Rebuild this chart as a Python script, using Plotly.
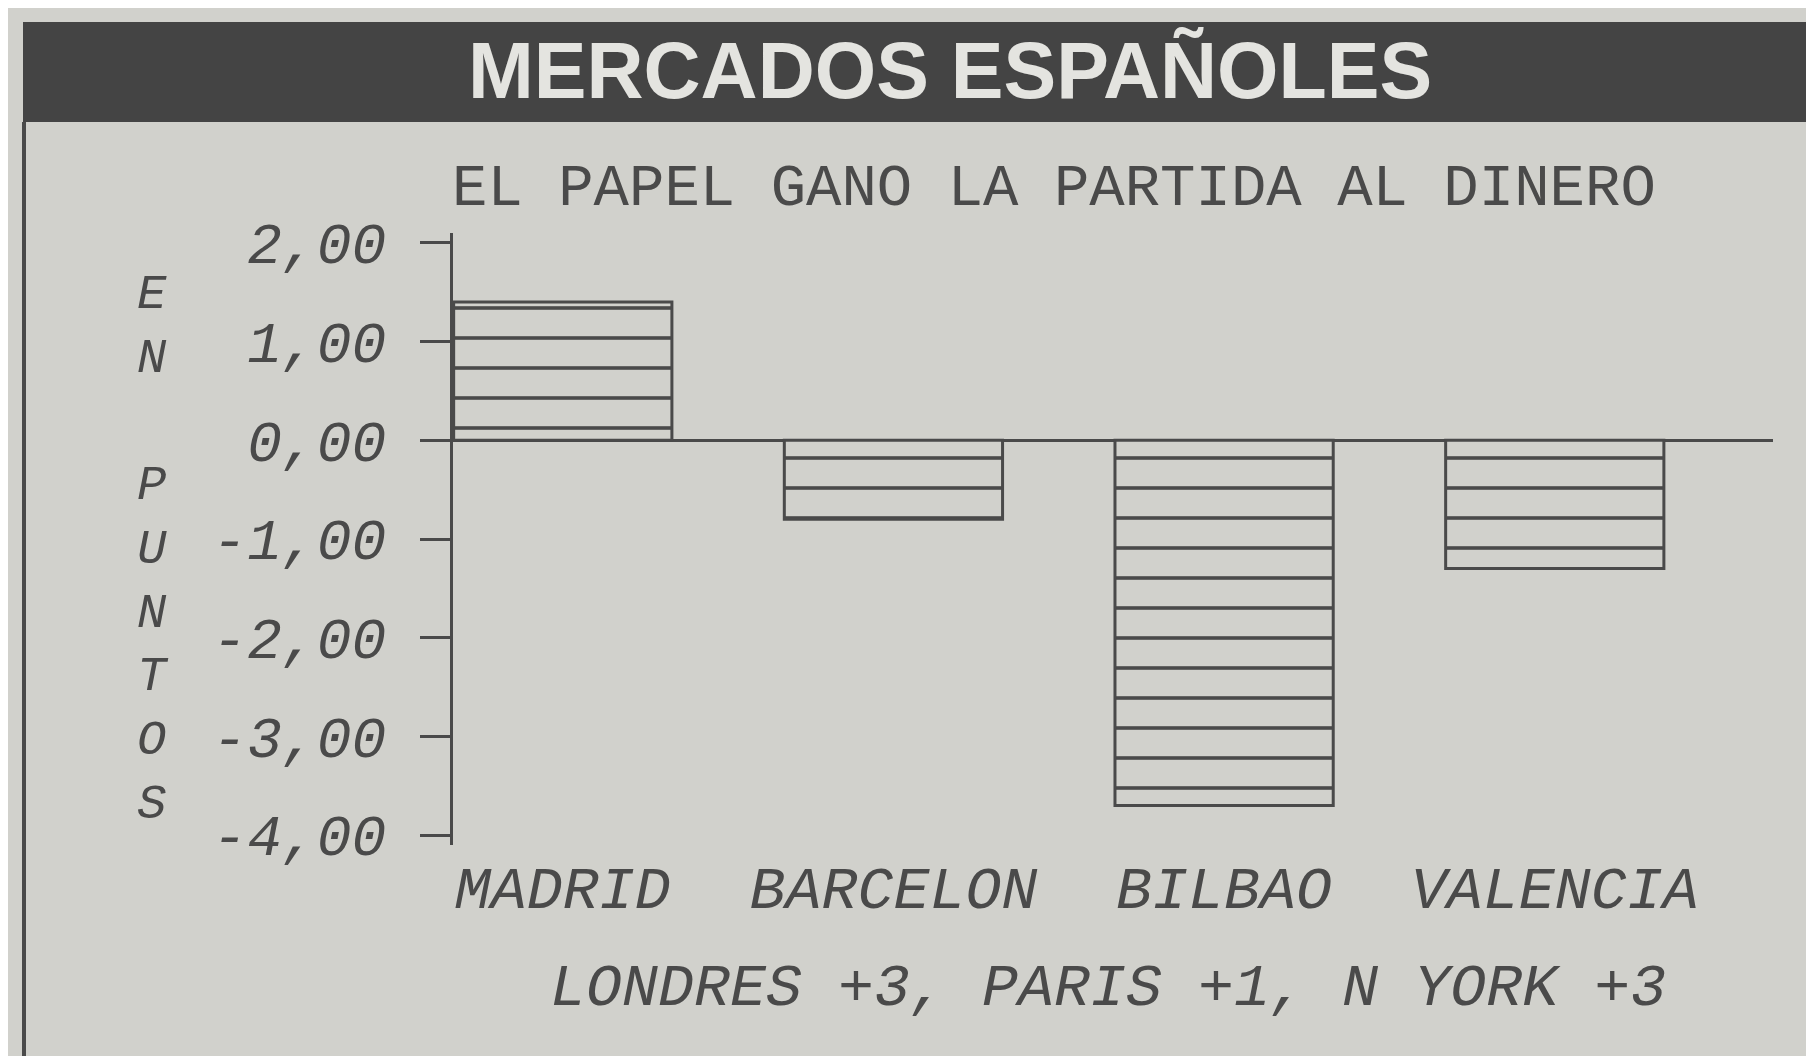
import plotly.graph_objects as go

# ---- data ----
categories = ["MADRID", "BARCELON", "BILBAO", "VALENCIA"]
values = [1.4, -0.8, -3.7, -1.3]
y_tick_vals = [2, 1, 0, -1, -2, -3, -4]
y_tick_text = ["2,00", "1,00", "0,00", "-1,00", "-2,00", "-3,00", "-4,00"]
header_text = "MERCADOS ESPAÑOLES"
title_text = "EL PAPEL GANO LA PARTIDA AL DINERO"
y_title_letters = ["E", "N", " ", "P", "U", "N", "T", "O", "S"]
note_text = "LONDRES +3, PARIS +1, N YORK +3"

# ---- style ----
W, H = 1814, 1056
BG = "#d1d1cc"
INK = "#4a4a4a"
BAND = "#444444"
MONO = "Liberation Mono, DejaVu Sans Mono, monospace"

L, R, T, B = 445, 49, 225, 219
PW, PH = W - L - R, H - T - B


def px_x(p):
    return (p - L) / PW


def px_y(p):
    return (H - B - p) / PH


fig = go.Figure()
fig.add_trace(go.Bar(
    x=list(range(len(categories))),
    y=values,
    width=0.66,
    marker=dict(
        color=BG,
        line=dict(color=INK, width=3),
        pattern=dict(shape="-", size=30, solidity=0.12, fgcolor=INK, bgcolor=BG, fillmode="replace"),
    ),
    hoverinfo="skip",
))

fig.update_layout(
    width=W, height=H,
    paper_bgcolor=BG, plot_bgcolor=BG,
    margin=dict(l=L, r=R, t=T, b=B, pad=0),
    showlegend=False,
)

fig.update_xaxes(
    range=[-0.332, 3.66],
    tickmode="array", tickvals=list(range(len(categories))), ticktext=categories,
    tickfont=dict(family=MONO, size=60, color=INK, style="italic"),
    showline=False, showgrid=False, zeroline=False, ticks="",
    ticklabelstandoff=2,
)
fig.update_yaxes(
    range=[-4.1, 2.1],
    tickmode="array", tickvals=y_tick_vals, ticktext=y_tick_text,
    tickfont=dict(family=MONO, size=58, color=INK, style="italic"),
    showline=True, linecolor=INK, linewidth=3,
    ticks="outside", ticklen=30, tickwidth=3, tickcolor=INK,
    showgrid=False,
    zeroline=True, zerolinecolor=INK, zerolinewidth=3,
    ticklabelstandoff=22,
)

shapes = [
    # header band
    dict(type="rect", xref="paper", yref="paper",
         x0=px_x(15), x1=px_x(W + 5), y0=px_y(114), y1=px_y(14),
         fillcolor=BAND, line=dict(width=0), layer="below"),
    # left border
    dict(type="line", xref="paper", yref="paper",
         x0=px_x(16), x1=px_x(16), y0=px_y(114), y1=px_y(H + 5),
         line=dict(color=INK, width=4)),
    # bottom border
    dict(type="line", xref="paper", yref="paper",
         x0=px_x(16), x1=px_x(W + 5), y0=px_y(1053), y1=px_y(1053),
         line=dict(color=INK, width=4)),
]

annotations = [
    dict(text=header_text, xref="paper", yref="paper", x=px_x(942), y=px_y(62),
         xanchor="center", yanchor="middle", showarrow=False,
         font=dict(family="Liberation Sans Narrow, Liberation Sans, Arial, sans-serif",
                   size=79, color="#e4e4e0", weight="bold")),
    dict(text=title_text, xref="paper", yref="paper", x=px_x(442), y=px_y(181),
         xanchor="left", yanchor="middle", showarrow=False,
         font=dict(family=MONO, size=59, color=INK)),
    dict(text=note_text, xref="paper", yref="paper", x=px_x(1100), y=px_y(981),
         xanchor="center", yanchor="middle", showarrow=False,
         font=dict(family=MONO, size=60, color=INK, style="italic")),
    dict(text="<br>".join(y_title_letters), xref="paper", yref="paper",
         x=px_x(145), y=px_y(542),
         xanchor="center", yanchor="middle", showarrow=False, align="center",
         font=dict(family=MONO, size=49, color=INK, style="italic")),
]

fig.update_layout(shapes=shapes, annotations=annotations)
fig.write_html("out.html")
